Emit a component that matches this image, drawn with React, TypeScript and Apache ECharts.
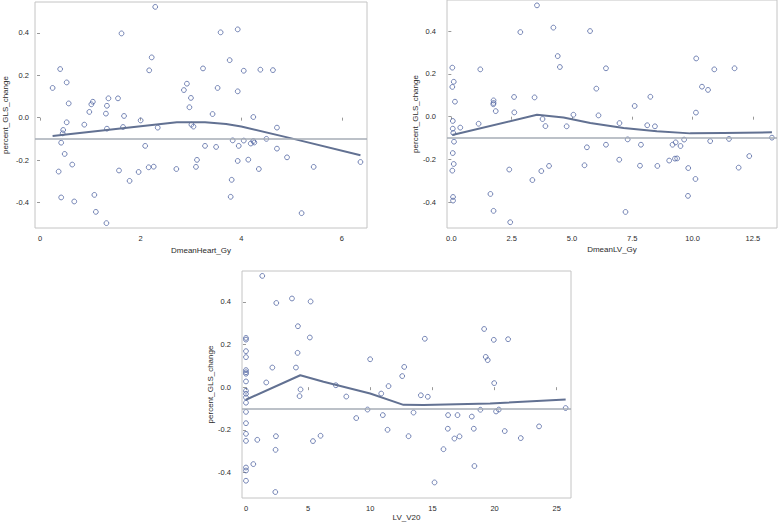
import React, { useEffect, useRef } from "react";
import * as echarts from "echarts";

// Panel 1: DmeanHeart_Gy
const heartX = [0.25,0.40,0.53,0.57,0.53,0.46,0.45,0.42,0.49,0.64,0.37,0.42,0.68,0.88,0.98,1.02,1.05,1.08,1.11,1.32,1.31,1.33,1.36,1.33,1.55,1.62,1.67,1.65,1.57,1.78,2.0,1.96,2.09,2.16,2.17,2.22,2.29,2.34,2.26,2.71,2.86,2.92,3.0,2.97,3.01,3.05,3.12,3.10,3.24,3.28,3.43,3.50,3.53,3.59,3.77,3.83,3.81,3.79,3.93,3.93,3.95,3.93,4.05,4.05,4.14,4.19,4.24,4.24,4.26,4.35,4.38,4.50,4.63,4.71,4.71,4.91,5.20,5.44,6.37];
const heartY = [0.14,0.229,0.166,0.067,-0.022,-0.058,-0.074,-0.118,-0.171,-0.221,-0.254,-0.376,-0.395,-0.033,0.027,0.063,0.075,-0.364,-0.444,-0.497,0.019,0.056,0.091,-0.052,0.091,0.397,0.008,-0.044,-0.249,-0.298,-0.013,-0.256,-0.133,-0.234,0.223,0.284,0.522,-0.047,-0.231,-0.242,0.130,0.160,0.093,0.049,-0.033,-0.042,-0.199,-0.232,0.232,-0.133,0.017,-0.138,0.140,0.402,0.271,-0.107,-0.293,-0.373,0.416,0.124,-0.133,-0.204,0.221,-0.108,-0.198,-0.122,0.003,-0.110,-0.117,-0.242,0.226,-0.100,0.224,-0.047,-0.146,-0.187,-0.450,-0.232,-0.209];
const heartFitX = [0.25,2.72,3.28,3.7,4.0,5.04,6.37];
const heartFitY = [-0.086,-0.022,-0.022,-0.03,-0.042,-0.1,-0.177];

// Panel 2: DmeanLV_Gy
const lvX = [0.04,0.10,0.04,0.15,0.06,0.06,0.08,0.11,0.06,0.10,0.04,0.07,0.07,0.37,1.13,1.20,1.62,1.75,1.75,1.75,1.74,1.84,2.40,2.44,2.60,2.61,2.86,3.36,3.45,3.55,3.73,3.78,3.90,4.05,4.23,4.41,4.50,4.78,5.06,5.52,5.62,5.75,6.01,6.10,6.41,6.41,6.96,6.97,7.22,7.31,7.60,7.82,7.86,8.12,8.25,8.44,8.54,9.03,9.17,9.30,9.27,9.36,9.50,9.65,9.82,9.81,10.14,10.15,10.12,10.39,10.64,10.73,10.90,11.51,11.74,11.91,12.35,13.29];
const lvY = [0.229,0.163,0.139,0.070,-0.020,-0.056,-0.076,-0.117,-0.170,-0.221,-0.252,-0.375,-0.392,-0.051,-0.033,0.221,-0.361,-0.440,0.076,0.064,0.058,0.026,-0.247,-0.493,0.092,0.020,0.395,-0.296,0.090,0.520,-0.254,-0.011,-0.044,-0.230,0.416,0.283,0.232,-0.045,0.009,-0.227,-0.143,0.400,0.131,0.006,-0.131,0.226,-0.201,-0.030,-0.445,-0.106,0.050,-0.229,-0.131,-0.040,0.093,-0.045,-0.230,-0.205,-0.131,-0.120,-0.196,-0.195,-0.137,-0.107,-0.240,-0.370,0.019,0.272,-0.291,0.140,0.125,-0.114,0.221,-0.104,0.226,-0.238,-0.184,-0.098];
const lvFitX = [0.04,3.55,4.65,5.76,7.14,8.52,9.9,11.28,13.29];
const lvFitY = [-0.086,0.009,-0.004,-0.03,-0.053,-0.068,-0.078,-0.076,-0.073];

// Panel 3: LV_V20
const v20X = [0,0,0,0,0,0,0,0,0,0,0,0,0,0,0,0,0,0,0,0.59,0.91,1.63,1.31,2.12,2.44,2.41,2.38,2.36,3.70,4.18,4.02,4.15,4.39,4.31,5.20,5.14,5.39,6.0,7.23,8.07,8.87,9.78,9.99,10.88,11.01,11.39,11.47,12.57,12.73,13.08,13.48,14.07,14.39,14.63,15.17,15.89,16.24,16.26,16.77,17.02,17.18,18.17,18.33,18.38,18.86,19.16,19.29,19.45,19.94,19.97,20.12,20.34,20.82,21.09,22.11,23.58,25.72];
const v20Y = [0.231,0.223,0.169,0.141,0.080,0.070,0.063,0.027,-0.017,-0.031,-0.048,-0.073,-0.116,-0.169,-0.219,-0.252,-0.377,-0.391,-0.439,-0.361,-0.247,0.022,0.522,0.092,0.395,-0.230,-0.294,-0.492,0.416,0.286,0.092,0.161,-0.011,-0.042,0.402,0.233,-0.253,-0.228,0.009,-0.044,-0.145,-0.105,0.131,-0.030,-0.131,-0.200,0.005,0.052,0.095,-0.230,-0.119,-0.038,0.227,-0.045,-0.447,-0.291,-0.195,-0.131,-0.241,-0.131,-0.231,-0.138,-0.195,-0.370,-0.106,0.273,0.142,0.127,0.222,0.019,-0.114,-0.105,-0.206,0.225,-0.239,-0.184,-0.098];
const v20FitX = [0,4.37,6.24,9.99,12.67,14.28,19.64,25.72];
const v20FitY = [-0.059,0.056,0.025,-0.03,-0.083,-0.084,-0.077,-0.058];

const yTicks = [-0.4, -0.2, 0, 0.2, 0.4];
const heartTicks = [0, 2, 4, 6];
const lvTicks = [0, 2.5, 5, 7.5, 10, 12.5];
const v20Ticks = [0, 5, 10, 15, 20, 25];
const refValue = -0.1;

const xNames = ["DmeanHeart_Gy", "DmeanLV_Gy", "LV_V20"];
const yName = "percent_GLS_change";

const zip = (a: number[], b: number[]) => a.map((v, i) => [v, b[i]]);

const TEXT = "#2b2b2b";
const FONT = "'Liberation Sans', Arial, sans-serif";
const MARK = "#5366a3";
const FIT = "#627192";
const REF = "#a6adb6";
const FRAME = "#c4c4c4";

export default function App() {
  const ref = useRef<HTMLDivElement>(null);
  useEffect(() => {
    if (!ref.current) return;
    const chart = echarts.init(ref.current, null, { renderer: "svg" });

    const grids = [
      { left: 35, top: 2, width: 332, height: 226 },
      { left: 447, top: 0, width: 330, height: 228 },
      { left: 242, top: 271, width: 329, height: 227 },
    ];
    const xr = [
      { min: -0.1, max: 6.5, ticks: heartTicks, dec: 0, gap: 18 },
      { min: -0.18, max: 13.5, ticks: lvTicks, dec: 1, gap: 17 },
      { min: -0.32, max: 26.15, ticks: v20Ticks, dec: 0, gap: 15 },
    ];
    const ylabMargin = [6, 11, 11];
    const series: any[] = [];
    const data = [
      [zip(heartX, heartY), zip(heartFitX, heartFitY)],
      [zip(lvX, lvY), zip(lvFitX, lvFitY)],
      [zip(v20X, v20Y), zip(v20FitX, v20FitY)],
    ];
    data.forEach((d, i) => {
      series.push({
        type: "scatter",
        xAxisIndex: i,
        yAxisIndex: i,
        data: d[0],
        symbol: "circle",
        symbolSize: 4.8,
        itemStyle: { color: "none", borderColor: MARK, borderWidth: 1 },
        z: 3,
        markLine: {
          silent: true,
          symbol: "none",
          label: { show: false },
          lineStyle: { color: REF, width: 1.5, type: "solid" },
          data: [{ yAxis: refValue }],
        },
      });
      series.push({
        type: "line",
        xAxisIndex: i,
        yAxisIndex: i,
        data: d[1],
        showSymbol: false,
        symbol: "none",
        lineStyle: { color: FIT, width: 2 },
        z: 4,
      });
    });

    chart.setOption({
      animation: false,
      backgroundColor: "#ffffff",
      textStyle: { fontFamily: FONT },
      grid: grids.map((g) => ({
        ...g,
        show: true,
        borderColor: FRAME,
        borderWidth: 1,
        backgroundColor: "transparent",
      })),
      xAxis: xr.map((r, i) => ({
        type: "value",
        gridIndex: i,
        min: r.min,
        max: r.max,
        name: xNames[i],
        nameLocation: "middle",
        nameGap: r.gap,
        nameTextStyle: { color: TEXT, fontSize: 8, fontFamily: FONT },
        splitLine: { show: false },
        axisLine: { show: false },
        axisTick: {
          show: true,
          inside: false,
          length: 3,
          lineStyle: { color: "#999999" },
          customValues: r.ticks,
        },
        axisLabel: {
          color: TEXT,
          fontSize: 7.5,
          fontFamily: FONT,
          margin: 6,
          customValues: r.ticks,
          formatter: (v: number) => v.toFixed(r.dec),
        },
      })),
      yAxis: [0, 1, 2].map((i) => ({
        type: "value",
        gridIndex: i,
        min: -0.52,
        max: 0.545,
        name: yName,
        nameLocation: "middle",
        nameGap: 26,
        nameTextStyle: { color: TEXT, fontSize: 8, fontFamily: FONT },
        splitLine: { show: false },
        axisLine: { show: false },
        axisTick: {
          show: true,
          inside: false,
          length: 3,
          lineStyle: { color: "#999999" },
          customValues: yTicks,
        },
        axisLabel: {
          color: TEXT,
          fontSize: 7.5,
          fontFamily: FONT,
          margin: ylabMargin[i],
          customValues: yTicks,
          formatter: (v: number) => v.toFixed(1),
        },
      })),
      series,
    });
    return () => chart.dispose();
  }, []);
  return (
    <div
      ref={ref}
      style={{ position: "absolute", left: 0, top: 0, width: 778, height: 526 }}
    />
  );
}
